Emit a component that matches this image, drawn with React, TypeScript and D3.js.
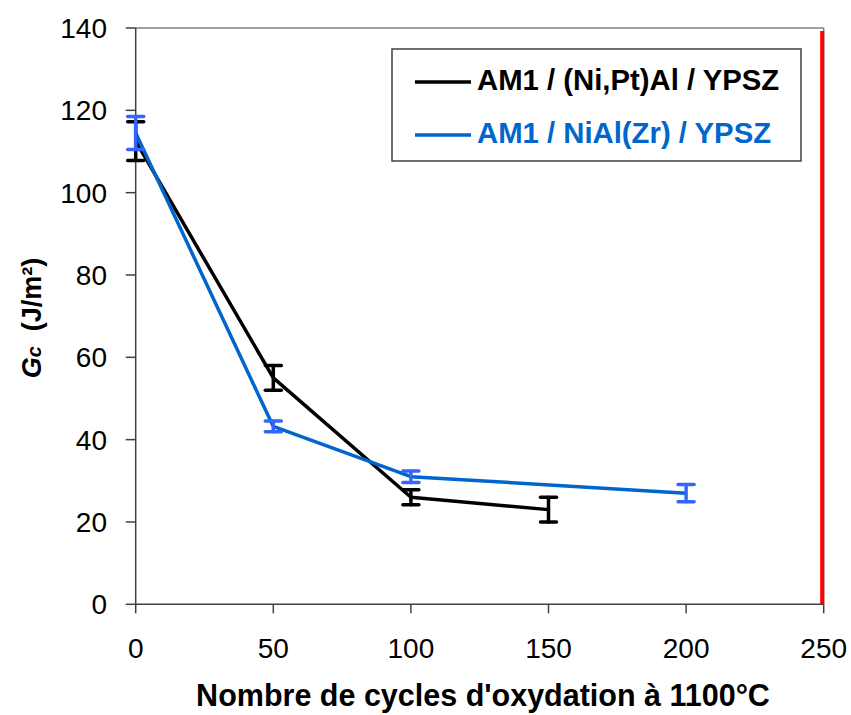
import React from "react";
import * as d3 from "d3";

const cycles = [0, 50, 100, 150, 200, 250];
const yTicks = [0, 20, 40, 60, 80, 100, 120, 140];

const seriesNames = ["AM1 / (Ni,Pt)Al / YPSZ", "AM1 / NiAl(Zr) / YPSZ"];

const ptAlX = [0, 50, 100, 150];
const ptAlY = [112.5, 55, 26, 23];
const ptAlErr = [4.7, 3, 1.8, 3];

const zrX = [0, 50, 100, 200];
const zrY = [114.5, 43.2, 31, 27];
const zrErr = [4, 1.3, 1.4, 2.1];

const W = 851;
const H = 715;
const FONT = "Liberation Sans, Arial, Helvetica, sans-serif";

export default function App() {
  const x = d3.scaleLinear().domain([0, 250]).range([135.7, 823.7]);
  const y = d3.scaleLinear().domain([0, 140]).range([604.3, 28]);

  const line = d3
    .line<[number, number]>()
    .x((d) => x(d[0]))
    .y((d) => y(d[1]));

  const series = [
    { name: seriesNames[0], xs: ptAlX, ys: ptAlY, errs: ptAlErr, color: "#000000", errColor: "#000000" },
    { name: seriesNames[1], xs: zrX, ys: zrY, errs: zrErr, color: "#0066CC", errColor: "#3366FF" },
  ];

  const capW = 8;

  return (
    <svg
      width={W}
      height={H}
      style={{ position: "absolute", left: 0, top: 0, background: "#fff" }}
      fontFamily={FONT}
    >
      <rect x={0} y={0} width={W} height={H} fill="#fff" />
      {/* plot frame top */}
      <line x1={x(0)} x2={x(250)} y1={y(140)} y2={y(140)} stroke="#808080" strokeWidth={1.5} />
      <line x1={x(250)} x2={x(250)} y1={y(140)} y2={y(0)} stroke="#808080" strokeWidth={1.5} />
      {/* red vertical line */}
      <line x1={x(250) - 1.5} x2={x(250) - 1.5} y1={31} y2={y(0)} stroke="#FF0000" strokeWidth={4} />

      {/* axes */}
      <line x1={x(0)} x2={x(250)} y1={y(0)} y2={y(0)} stroke="#404040" strokeWidth={1.5} />
      <line x1={x(0)} x2={x(0)} y1={y(0)} y2={y(140)} stroke="#404040" strokeWidth={1.5} />
      {cycles.map((c) => (
        <g key={"xt" + c}>
          <line x1={x(c)} x2={x(c)} y1={y(0)} y2={y(0) + 9} stroke="#404040" strokeWidth={1.5} />
          <text x={x(c)} y={658} textAnchor="middle" fontSize={28} fill="#000">
            {c}
          </text>
        </g>
      ))}
      {yTicks.map((t) => (
        <g key={"yt" + t}>
          <line x1={x(0) - 10} x2={x(0)} y1={y(t)} y2={y(t)} stroke="#404040" strokeWidth={1.5} />
          <text x={107} y={y(t)} dy="0.36em" textAnchor="end" fontSize={28} fill="#000">
            {t}
          </text>
        </g>
      ))}

      {/* series lines */}
      {series.map((s) => (
        <path
          key={"l" + s.name}
          d={line(s.xs.map((v, i) => [v, s.ys[i]] as [number, number])) || ""}
          fill="none"
          stroke={s.color}
          strokeWidth={3.5}
          strokeLinejoin="round"
        />
      ))}
      {/* error bars */}
      {series.map((s) =>
        s.xs.map((v, i) => {
          const cx = x(v);
          const y1 = y(s.ys[i] + s.errs[i]);
          const y2 = y(s.ys[i] - s.errs[i]);
          return (
            <g key={"e" + s.name + i} stroke={s.errColor} strokeWidth={3.5} strokeLinecap="round">
              <line x1={cx} x2={cx} y1={y1} y2={y2} />
              <line x1={cx - capW} x2={cx + capW} y1={y1} y2={y1} />
              <line x1={cx - capW} x2={cx + capW} y1={y2} y2={y2} />
            </g>
          );
        })
      )}

      {/* legend */}
      <rect x={392} y={49} width={409} height={112} fill="#fff" stroke="#404040" strokeWidth={1.5} />
      {series.map((s, i) => (
        <g key={"lg" + s.name}>
          <line x1={415} x2={471} y1={82 + i * 53} y2={82 + i * 53} stroke={s.color} strokeWidth={3.5} />
          <text x={477} y={90 + i * 53} fontSize={29.3} fontWeight="bold" fill={s.color}>
            {s.name}
          </text>
        </g>
      ))}

      {/* axis titles */}
      <text x={483} y={706} textAnchor="middle" fontSize={30.5} fontWeight="bold" fill="#000">
        Nombre de cycles d'oxydation à 1100°C
      </text>
      <text
        transform={`translate(41, 318) rotate(-90)`}
        textAnchor="middle"
        fontSize={27}
        fontWeight="bold"
        fill="#000"
      >
        <tspan fontStyle="italic">G</tspan>
        <tspan fontStyle="italic" fontSize={20}>c</tspan>
        <tspan>{"\u00A0 (J/m²)"}</tspan>
      </text>
    </svg>
  );
}
